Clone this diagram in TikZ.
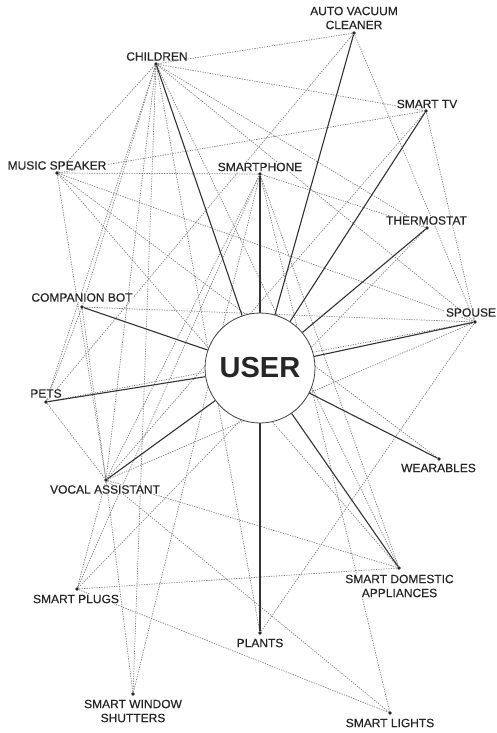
\documentclass[tikz,border=0pt]{standalone}
\usepackage{fontspec}
\setmainfont{Liberation Sans}
\newfontfamily\lblfont{Liberation Sans}[FakeBold=0.35]
\pgfdeclarelayer{edges}
\pgfsetlayers{edges,main}
\begin{document}
\begin{tikzpicture}[x=1pt,y=-1pt,
  lbl/.style={font=\lblfont\fontsize{12}{14}\selectfont, text=black!85, fill=white, inner sep=0.6pt, align=center},
  hub/.style={circle, fill=black!85, inner sep=0pt, minimum size=3.6pt},
  link/.style={draw=black!50, line width=0.7pt, dash pattern=on 1.3pt off 1.2pt},
  tie/.style={draw=black!80, line width=1.1pt}]
\useasboundingbox (0,0) rectangle (497,733);

% central actor
\node[circle, draw=black!75, line width=0.8pt, fill=white, minimum size=110pt,
      inner sep=0pt, text=black!85, font=\bfseries\fontsize{29}{30}\selectfont] (user) at (260,368) {USER};

% device / person labels
\node[lbl] (ch-l) at (157,56.5) {CHILDREN};
\node[lbl] (av-l) at (354,18) {AUTO VACUUM\\CLEANER};
\node[lbl] (tv-l) at (427,104) {SMART TV};
\node[lbl] (ms-l) at (57,165.5) {MUSIC SPEAKER};
\node[lbl] (sp-l) at (260,167) {SMARTPHONE};
\node[lbl] (th-l) at (426.5,220.5) {THERMOSTAT};
\node[lbl] (cb-l) at (82,297.5) {COMPANION BOT};
\node[lbl] (pe-l) at (46,393.5) {PETS};
\node[lbl] (va-l) at (105,489.5) {VOCAL ASSISTANT};
\node[lbl] (so-l) at (471,312.5) {SPOUSE};
\node[lbl] (we-l) at (438.5,468) {WEARABLES};
\node[lbl] (pl-l) at (76,599) {SMART PLUGS};
\node[lbl] (ws-l) at (133,711) {SMART WINDOW\\SHUTTERS};
\node[lbl] (pa-l) at (260,643) {PLANTS};
\node[lbl] (da-l) at (399.5,586) {SMART DOMESTIC\\APPLIANCES};
\node[lbl] (li-l) at (390,723) {SMART LIGHTS};

% anchor dots
\node[hub] (ch) at (156,64) {};
\node[hub] (av) at (354,33) {};
\node[hub] (tv) at (426,111) {};
\node[hub] (ms) at (57,173) {};
\node[hub] (sp) at (260,174) {};
\node[hub] (th) at (427,228) {};
\node[hub] (cb) at (82,307) {};
\node[hub] (pe) at (46,402) {};
\node[hub] (va) at (106,480) {};
\node[hub] (so) at (475,322) {};
\node[hub] (we) at (439,459) {};
\node[hub] (pl) at (77,589) {};
\node[hub] (ws) at (133,694) {};
\node[hub] (pa) at (260,633) {};
\node[hub] (da) at (399,568) {};
\node[hub] (li) at (390,713) {};

\begin{pgfonlayer}{edges}
  % secondary relations
  \foreach \a/\b in {ch/av, ch/tv, ch/ms, ch/cb, ch/pe, ch/va, ch/ws, ch/da, ch/so, ch/th, ch/pa,
                     ms/tv, ms/sp, ms/so, ms/we, ms/va, ms/da,
                     sp/th, sp/ws, sp/li, sp/va, sp/pl, sp/da,
                     av/pe, av/so, tv/va, tv/so, th/pl,
                     cb/so, cb/pe, cb/va, pe/so, pe/va,
                     va/so, va/pl, va/ws, va/da, va/li,
                     pl/da, pl/li, so/pa}
    \draw[link] (\a) -- (\b);
  % direct relations with the user
  \foreach \b in {ch, av, tv, sp, th, cb, pe, va, so, we, da, pa}
    \draw[tie] (user) -- (\b);
\end{pgfonlayer}
\end{tikzpicture}
\end{document}
